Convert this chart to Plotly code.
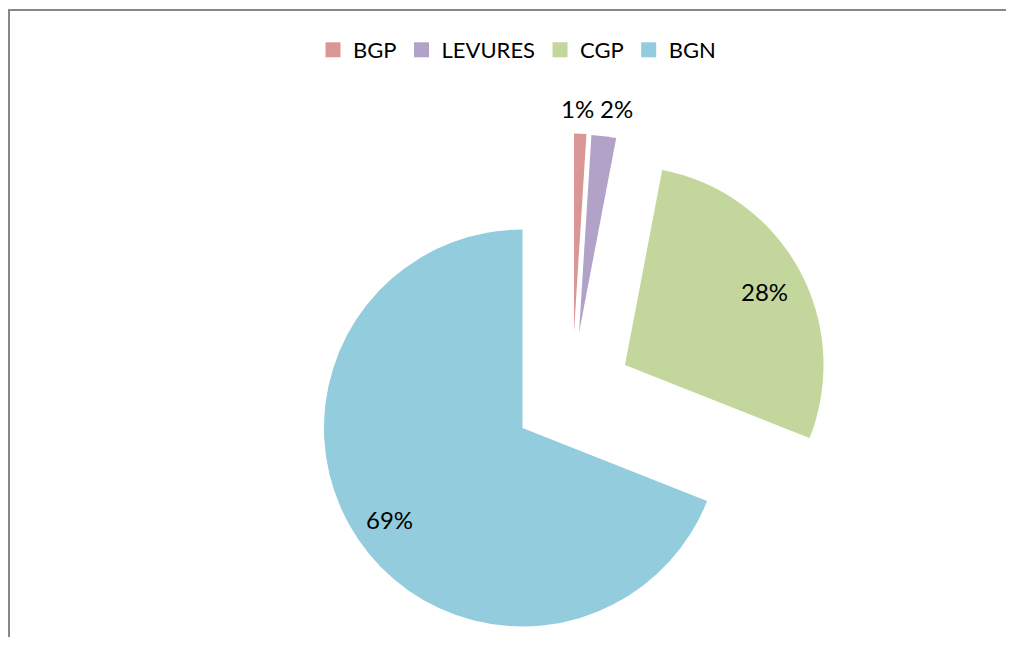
import math
import plotly.graph_objects as go

# ---- data ----
categories = ["BGP", "LEVURES", "CGP", "BGN"]
values = [1, 2, 28, 69]
colors = ["#D99694", "#B3A2C7", "#C3D69B", "#93CDDD"]

# ---- layout / style ----
PAGE_OFF = 8                  # browser body margin (px)
W, H = 1014 - 2 * PAGE_OFF, 645 - 2 * PAGE_OFF
FONT = "Lato"
R = 198.5                     # pie radius in px
BASE = (522.5, 428.0)         # page px of the centre of the un-exploded pie
# exploded slice offsets (px) from the base centre
EXPLODE = {"BGP": (51.5, -96), "LEVURES": (56.5, -95), "CGP": (102.5, -63), "BGN": (0, 0)}
# data-label placement: (angle nudge from slice mid-angle in deg, distance as fraction of R)
LABEL_PLACE = {"BGP": (-0.85, 1.126), "LEVURES": (2.3, 1.147), "CGP": (1.0, 0.792), "BGN": (-0.3, 0.816)}


def fx(px):
    return (px - PAGE_OFF) / W


def fy(py):
    return 1 - (py - PAGE_OFF) / H


fig = go.Figure()
total = sum(values)
cum = 0.0
annotations = []
for i, cat in enumerate(categories):
    dx, dy = EXPLODE[cat]
    cx, cy = BASE[0] + dx, BASE[1] + dy
    slice_colors = [c if j == i else "rgba(0,0,0,0)" for j, c in enumerate(colors)]
    fig.add_trace(go.Pie(
        labels=categories, values=values, sort=False, direction="clockwise",
        rotation=0,
        domain=dict(x=[fx(cx - R), fx(cx + R)], y=[fy(cy + R), fy(cy - R)]),
        marker=dict(colors=slice_colors, line=dict(width=0)),
        textinfo="none", showlegend=False, hoverinfo="label+percent",
    ))
    # data label, placed from the slice geometry
    frac = values[i] / total
    mid = (cum + frac / 2) * 360.0
    cum += frac
    nudge, rf = LABEL_PLACE[cat]
    a = math.radians(mid + nudge)
    lx = cx + rf * R * math.sin(a)
    ly = cy - rf * R * math.cos(a)
    annotations.append(dict(
        x=fx(lx), y=fy(ly), xref="paper", yref="paper",
        text=f"{round(frac * 100)}%", showarrow=False,
        xanchor="center", yanchor="middle",
        font=dict(family=FONT, size=24, color="#000000"),
    ))

# legend entries
for cat, col in zip(categories, colors):
    fig.add_trace(go.Scatter(
        x=[None], y=[None], mode="markers", name=cat,
        marker=dict(symbol="square", size=15, color=col),
        showlegend=True,
    ))

fig.update_layout(
    width=W, height=H,
    margin=dict(l=0, r=0, t=0, b=0),
    paper_bgcolor="white", plot_bgcolor="white",
    xaxis=dict(visible=False), yaxis=dict(visible=False),
    legend=dict(orientation="h", x=fx(517), xanchor="center", y=fy(50), yanchor="middle",
                font=dict(family=FONT, size=22, color="#000000"),
                itemwidth=30, bgcolor="rgba(0,0,0,0)"),
    shapes=[dict(type="rect", xref="paper", yref="paper",
                 x0=fx(9), x1=1.05, y0=-0.05, y1=fy(10),
                 line=dict(color="#878787", width=2), fillcolor="rgba(0,0,0,0)")],
    annotations=annotations,
    font=dict(family=FONT),
)

fig.write_html("out.html")
